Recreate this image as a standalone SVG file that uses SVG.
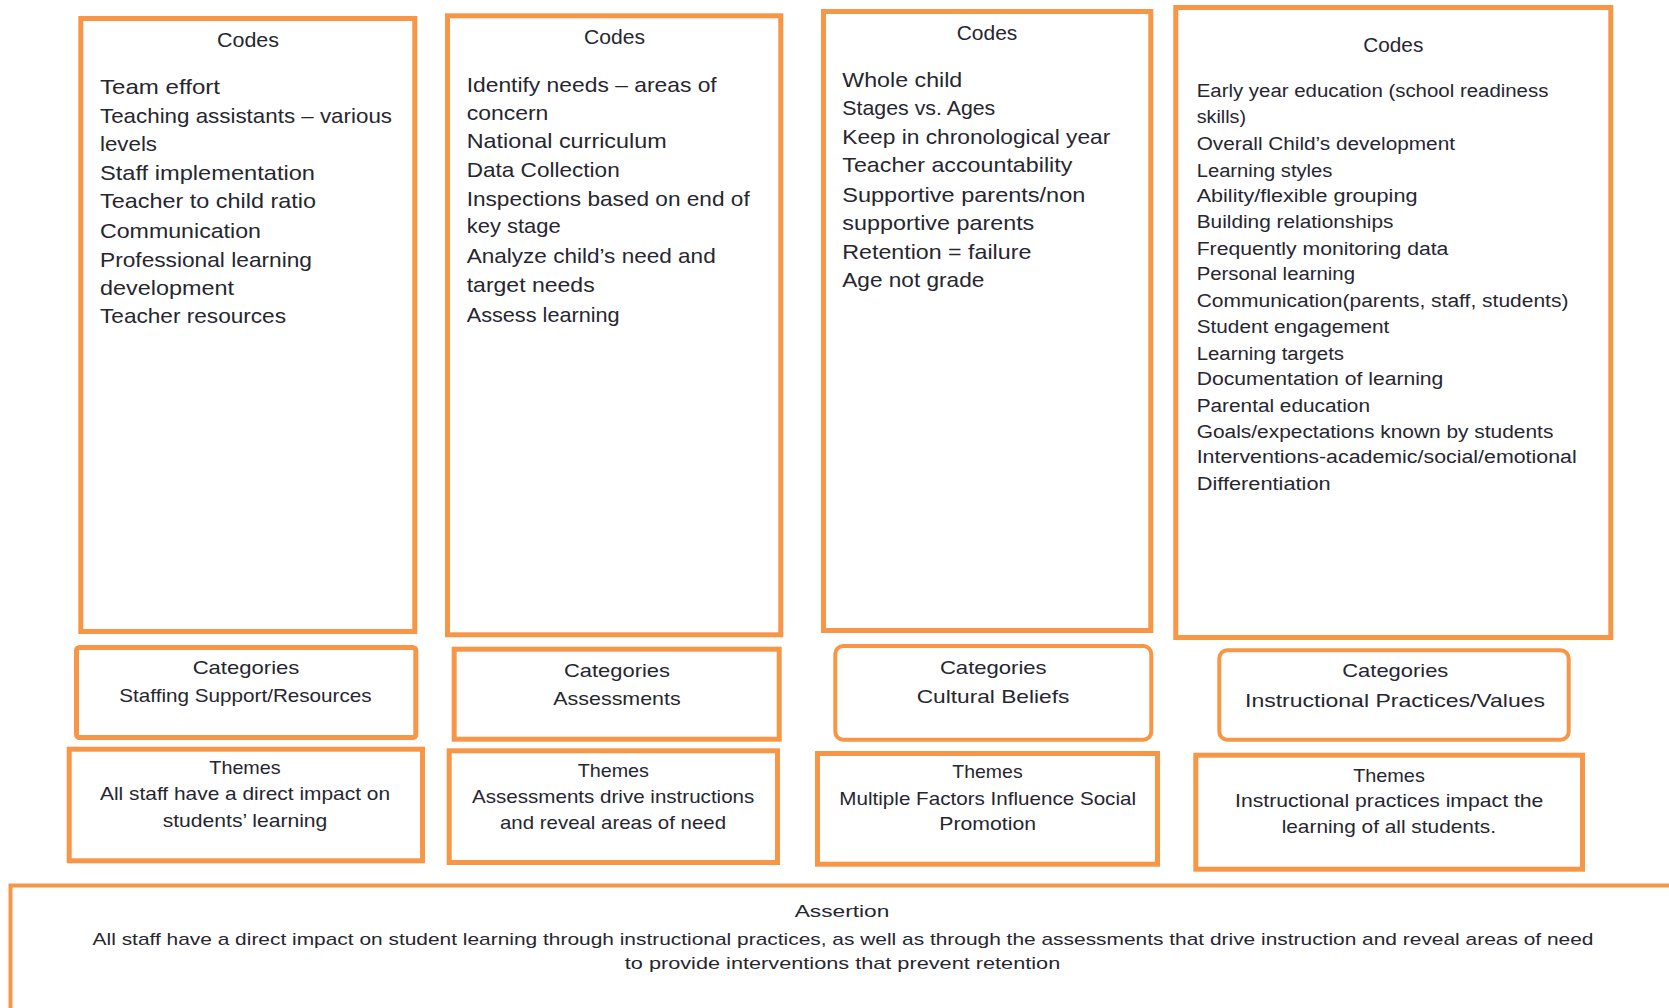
<svg xmlns="http://www.w3.org/2000/svg" width="1669" height="1008" viewBox="0 0 1669 1008">
<style>
.box{fill:#ffffff;stroke:#F79646;stroke-width:5}
.thin{stroke-width:4}
text{font-family:"Liberation Sans",Arial,sans-serif;fill:#262630}
.h{font-size:20px;text-anchor:middle}
.l{font-size:21px}
.s{font-size:18px}
.m{font-size:19px;text-anchor:middle}
.a{font-size:17px;text-anchor:middle}
</style>
<rect width="1669" height="1008" fill="#ffffff"/>
<g id="connectors"></g>

<g id="codes-staffing">
<rect class="box" x="80.8" y="18.5" width="334" height="613"/>
<text class="h" x="248" y="46.5" textLength="62" lengthAdjust="spacingAndGlyphs">Codes</text>
<text class="l" x="100" y="94" textLength="120" lengthAdjust="spacingAndGlyphs">Team effort</text>
<text class="l" x="100" y="123.3" textLength="292" lengthAdjust="spacingAndGlyphs">Teaching assistants – various</text>
<text class="l" x="100" y="150.7" textLength="57" lengthAdjust="spacingAndGlyphs">levels</text>
<text class="l" x="100" y="180" textLength="215" lengthAdjust="spacingAndGlyphs">Staff implementation</text>
<text class="l" x="100" y="208.3" textLength="216" lengthAdjust="spacingAndGlyphs">Teacher to child ratio</text>
<text class="l" x="100" y="238.3" textLength="161" lengthAdjust="spacingAndGlyphs">Communication</text>
<text class="l" x="100" y="266.7" textLength="212" lengthAdjust="spacingAndGlyphs">Professional learning</text>
<text class="l" x="100" y="295" textLength="134" lengthAdjust="spacingAndGlyphs">development</text>
<text class="l" x="100" y="323.3" textLength="186" lengthAdjust="spacingAndGlyphs">Teacher resources</text>
</g>

<g id="codes-assessments">
<rect class="box" x="447.5" y="15.8" width="333.3" height="619"/>
<text class="h" x="614.5" y="44.3" textLength="61" lengthAdjust="spacingAndGlyphs">Codes</text>
<text class="l" x="466.7" y="91.7" textLength="250" lengthAdjust="spacingAndGlyphs">Identify needs – areas of</text>
<text class="l" x="466.7" y="120" textLength="81.7" lengthAdjust="spacingAndGlyphs">concern</text>
<text class="l" x="466.7" y="148.3" textLength="200" lengthAdjust="spacingAndGlyphs">National curriculum</text>
<text class="l" x="466.7" y="176.7" textLength="153" lengthAdjust="spacingAndGlyphs">Data Collection</text>
<text class="l" x="466.7" y="205.7" textLength="283" lengthAdjust="spacingAndGlyphs">Inspections based on end of</text>
<text class="l" x="466.7" y="233.3" textLength="94" lengthAdjust="spacingAndGlyphs">key stage</text>
<text class="l" x="466.7" y="263.3" textLength="249" lengthAdjust="spacingAndGlyphs">Analyze child’s need and</text>
<text class="l" x="466.7" y="291.7" textLength="128" lengthAdjust="spacingAndGlyphs">target needs</text>
<text class="l" x="466.7" y="321.7" textLength="153" lengthAdjust="spacingAndGlyphs">Assess learning</text>
</g>

<g id="codes-cultural">
<rect class="box" x="823.5" y="11.5" width="327.3" height="619"/>
<text class="h" x="987" y="40" textLength="60.6" lengthAdjust="spacingAndGlyphs">Codes</text>
<text class="l" x="842.3" y="87.3" textLength="120" lengthAdjust="spacingAndGlyphs">Whole child</text>
<text class="l" x="842.3" y="115" textLength="153" lengthAdjust="spacingAndGlyphs">Stages vs. Ages</text>
<text class="l" x="842.3" y="144" textLength="268" lengthAdjust="spacingAndGlyphs">Keep in chronological year</text>
<text class="l" x="842.3" y="172.3" textLength="230" lengthAdjust="spacingAndGlyphs">Teacher accountability</text>
<text class="l" x="842.3" y="201.7" textLength="243" lengthAdjust="spacingAndGlyphs">Supportive parents/non</text>
<text class="l" x="842.3" y="230" textLength="192" lengthAdjust="spacingAndGlyphs">supportive parents</text>
<text class="l" x="842.3" y="259.3" textLength="189" lengthAdjust="spacingAndGlyphs">Retention = failure</text>
<text class="l" x="842.3" y="287.3" textLength="142" lengthAdjust="spacingAndGlyphs">Age not grade</text>
</g>

<g id="codes-instructional">
<rect class="box" x="1175.8" y="7.5" width="435" height="630"/>
<text class="h" x="1393.3" y="51.7" textLength="60" lengthAdjust="spacingAndGlyphs">Codes</text>
<text class="s" x="1196.7" y="96.7" textLength="351.7" lengthAdjust="spacingAndGlyphs">Early year education (school readiness</text>
<text class="s" x="1196.7" y="123.3" textLength="49.3" lengthAdjust="spacingAndGlyphs">skills)</text>
<text class="s" x="1196.7" y="150" textLength="258.3" lengthAdjust="spacingAndGlyphs">Overall Child’s development</text>
<text class="s" x="1196.7" y="176.7" textLength="135.7" lengthAdjust="spacingAndGlyphs">Learning styles</text>
<text class="s" x="1196.7" y="201.7" textLength="220.7" lengthAdjust="spacingAndGlyphs">Ability/flexible grouping</text>
<text class="s" x="1196.7" y="228.3" textLength="196.7" lengthAdjust="spacingAndGlyphs">Building relationships</text>
<text class="s" x="1196.7" y="255" textLength="251.7" lengthAdjust="spacingAndGlyphs">Frequently monitoring data</text>
<text class="s" x="1196.7" y="280" textLength="158.3" lengthAdjust="spacingAndGlyphs">Personal learning</text>
<text class="s" x="1196.7" y="306.7" textLength="371.7" lengthAdjust="spacingAndGlyphs">Communication(parents, staff, students)</text>
<text class="s" x="1196.7" y="333.3" textLength="192.7" lengthAdjust="spacingAndGlyphs">Student engagement</text>
<text class="s" x="1196.7" y="360" textLength="147.3" lengthAdjust="spacingAndGlyphs">Learning targets</text>
<text class="s" x="1196.7" y="385" textLength="246.7" lengthAdjust="spacingAndGlyphs">Documentation of learning</text>
<text class="s" x="1196.7" y="411.7" textLength="173.3" lengthAdjust="spacingAndGlyphs">Parental education</text>
<text class="s" x="1196.7" y="438.3" textLength="356.7" lengthAdjust="spacingAndGlyphs">Goals/expectations known by students</text>
<text class="s" x="1196.7" y="463.3" textLength="380" lengthAdjust="spacingAndGlyphs">Interventions-academic/social/emotional</text>
<text class="s" x="1196.7" y="490" textLength="134" lengthAdjust="spacingAndGlyphs">Differentiation</text>
</g>

<g id="cat-staffing">
<rect class="box" x="76.5" y="647.5" width="339.3" height="90" rx="3"/>
<text class="m" x="246" y="674.3" textLength="106.7" lengthAdjust="spacingAndGlyphs">Categories</text>
<text class="m" x="245.5" y="701.7" textLength="252.3" lengthAdjust="spacingAndGlyphs">Staffing Support/Resources</text>
</g>
<g id="cat-assessments">
<rect class="box" x="454.2" y="649.2" width="325" height="90"/>
<text class="m" x="617" y="676.7" textLength="106" lengthAdjust="spacingAndGlyphs">Categories</text>
<text class="m" x="617" y="705" textLength="127.3" lengthAdjust="spacingAndGlyphs">Assessments</text>
</g>
<g id="cat-cultural">
<rect class="box thin" x="835.3" y="646" width="316" height="93.7" rx="8"/>
<text class="m" x="993.3" y="674.3" textLength="106.7" lengthAdjust="spacingAndGlyphs">Categories</text>
<text class="m" x="993" y="703.3" textLength="152.7" lengthAdjust="spacingAndGlyphs">Cultural Beliefs</text>
</g>
<g id="cat-instructional">
<rect class="box thin" x="1219.3" y="650.3" width="349.4" height="89.4" rx="8"/>
<text class="m" x="1395.3" y="676.7" textLength="106" lengthAdjust="spacingAndGlyphs">Categories</text>
<text class="m" x="1395" y="706.7" textLength="300" lengthAdjust="spacingAndGlyphs">Instructional Practices/Values</text>
</g>

<g id="theme-staffing">
<rect class="box" x="69.2" y="749.2" width="353.3" height="111.6"/>
<text class="m" x="245" y="774" textLength="71.3" lengthAdjust="spacingAndGlyphs">Themes</text>
<text class="m" x="245" y="800" textLength="290" lengthAdjust="spacingAndGlyphs">All staff have a direct impact on</text>
<text class="m" x="245" y="826.7" textLength="164.7" lengthAdjust="spacingAndGlyphs">students’ learning</text>
</g>
<g id="theme-assessments">
<rect class="box" x="449.2" y="750.8" width="328.3" height="111.7"/>
<text class="m" x="613.3" y="776.7" textLength="71.3" lengthAdjust="spacingAndGlyphs">Themes</text>
<text class="m" x="613.2" y="802.7" textLength="282.3" lengthAdjust="spacingAndGlyphs">Assessments drive instructions</text>
<text class="m" x="613" y="829.3" textLength="226" lengthAdjust="spacingAndGlyphs">and reveal areas of need</text>
</g>
<g id="theme-cultural">
<rect class="box" x="817.5" y="753.5" width="340" height="110.7"/>
<text class="m" x="987.5" y="777.7" textLength="70.3" lengthAdjust="spacingAndGlyphs">Themes</text>
<text class="m" x="987.7" y="805" textLength="296.7" lengthAdjust="spacingAndGlyphs">Multiple Factors Influence Social</text>
<text class="m" x="987.7" y="830" textLength="96.7" lengthAdjust="spacingAndGlyphs">Promotion</text>
</g>
<g id="theme-instructional">
<rect class="box" x="1195.8" y="755.2" width="386.7" height="114"/>
<text class="m" x="1389" y="781.7" textLength="71.7" lengthAdjust="spacingAndGlyphs">Themes</text>
<text class="m" x="1389.2" y="806.7" textLength="308.3" lengthAdjust="spacingAndGlyphs">Instructional practices impact the</text>
<text class="m" x="1388.8" y="833.3" textLength="214.3" lengthAdjust="spacingAndGlyphs">learning of all students.</text>
</g>

<g id="assertion">
<rect class="box thin" x="10.5" y="885.5" width="1690" height="140"/>
<text class="a" x="842" y="916.7" textLength="94.7" lengthAdjust="spacingAndGlyphs">Assertion</text>
<text class="a" x="843" y="945" textLength="1500.8" lengthAdjust="spacingAndGlyphs">All staff have a direct impact on student learning through instructional practices, as well as through the assessments that drive instruction and reveal areas of need</text>
<text class="a" x="842.5" y="969" textLength="435.4" lengthAdjust="spacingAndGlyphs">to provide interventions that prevent retention</text>
</g>
</svg>
